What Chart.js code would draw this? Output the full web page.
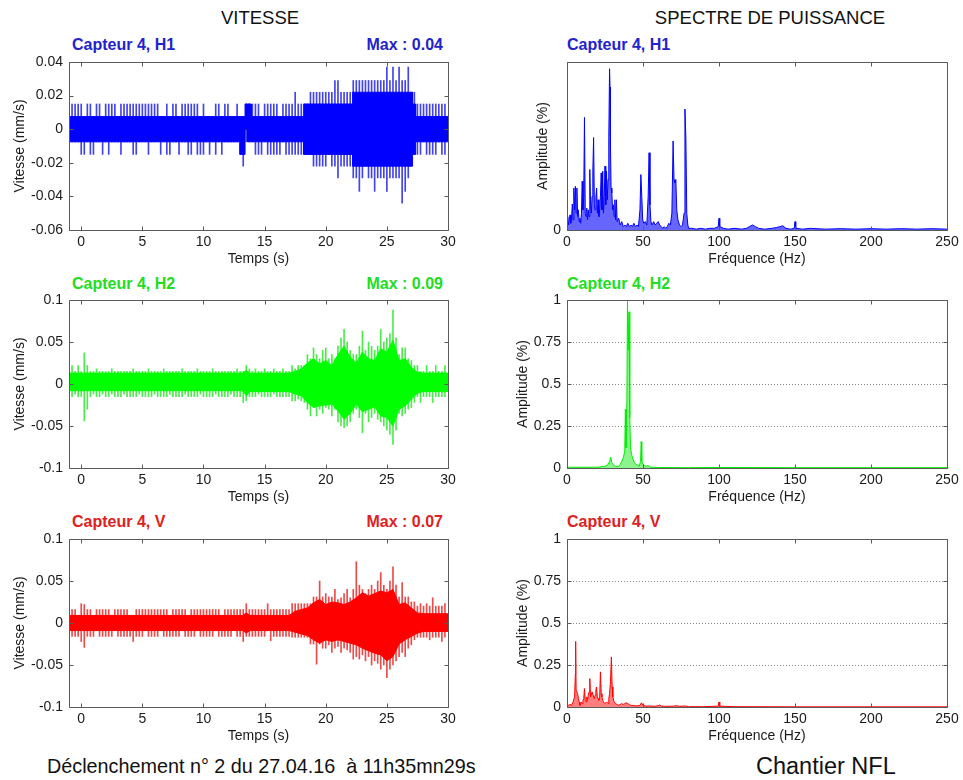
<!DOCTYPE html>
<html lang="fr">
<head>
<meta charset="utf-8">
<title>Capteur 4 - Vitesse et spectre de puissance</title>
<script src="https://cdn.jsdelivr.net/npm/chart.js@4.4.1/dist/chart.umd.min.js"></script>
<style>
body{margin:0;background:#fff;font-family:"Liberation Sans",Arial,sans-serif;}
#page{position:relative;width:963px;height:780px;overflow:hidden;background:#fff;}
#page canvas{position:absolute;}
.txt{position:absolute;white-space:nowrap;line-height:1;}
.head{font-size:18.5px;color:#111;transform:translateX(-50%);}
.sub{font-size:16px;font-weight:bold;}
.right{transform:translateX(-100%);}
.blue{color:#2323cc;}
.green{color:#22dd22;}
.red{color:#dd2222;}
</style>
</head>
<body>
<div id="page">
  <div class="txt head" style="left:260px;top:9px;">VITESSE</div>
  <div class="txt head" style="left:770px;top:9px;">SPECTRE DE PUISSANCE</div>

  <div class="txt sub blue" style="left:72px;top:37px;">Capteur 4, H1</div>
  <div class="txt sub blue right" style="left:443px;top:37px;">Max : 0.04</div>
  <div class="txt sub blue" style="left:567px;top:37px;">Capteur 4, H1</div>

  <div class="txt sub green" style="left:72px;top:276px;">Capteur 4, H2</div>
  <div class="txt sub green right" style="left:443px;top:276px;">Max : 0.09</div>
  <div class="txt sub green" style="left:567px;top:276px;">Capteur 4, H2</div>

  <div class="txt sub red" style="left:72px;top:514px;">Capteur 4, V</div>
  <div class="txt sub red right" style="left:443px;top:514px;">Max : 0.07</div>
  <div class="txt sub red" style="left:567px;top:514px;">Capteur 4, V</div>

  <canvas id="velH1" width="460" height="218" style="left:0;top:50px;"></canvas>
  <canvas id="velH2" width="460" height="218" style="left:0;top:288px;"></canvas>
  <canvas id="velV"  width="460" height="218" style="left:0;top:527px;"></canvas>
  <canvas id="specH1" width="460" height="218" style="left:500px;top:50px;"></canvas>
  <canvas id="specH2" width="460" height="218" style="left:500px;top:288px;"></canvas>
  <canvas id="specV"  width="460" height="218" style="left:500px;top:527px;"></canvas>

  <div class="txt" style="left:47px;top:757px;font-size:19.8px;color:#111;">Déclenchement n° 2 du 27.04.16&nbsp; à 11h35mn29s</div>
  <div class="txt" style="left:756px;top:755px;font-size:23.5px;color:#111;">Chantier NFL</div>
</div>

<script>
// ---- axes ----
const timeTicks = [0, 5, 10, 15, 20, 25, 30];
const freqTicks = [0, 50, 100, 150, 200, 250];
const velTicksH1 = [-0.06, -0.04, -0.02, 0, 0.02, 0.04];
const velTicksH2 = [-0.1, -0.05, 0, 0.05, 0.1];
const velTicksV = [-0.1, -0.05, 0, 0.05, 0.1];
const ampTicks = [0, 0.25, 0.5, 0.75, 1];
const ampTicksH1 = [0];

// ---- vitesse : pics relevés tous les 0.25 s (µm/s) ----
const sampleT = [
  -0.75, -0.5, -0.25,
  0, 0.25, 0.5, 0.75, 1, 1.25, 1.5, 1.75,
  2, 2.25, 2.5, 2.75, 3, 3.25, 3.5, 3.75,
  4, 4.25, 4.5, 4.75, 5, 5.25, 5.5, 5.75,
  6, 6.25, 6.5, 6.75, 7, 7.25, 7.5, 7.75,
  8, 8.25, 8.5, 8.75, 9, 9.25, 9.5, 9.75,
  10, 10.25, 10.5, 10.75, 11, 11.25, 11.5, 11.75,
  12, 12.25, 12.5, 12.75, 13, 13.25, 13.5, 13.75,
  14, 14.25, 14.5, 14.75, 15, 15.25, 15.5, 15.75,
  16, 16.25, 16.5, 16.75, 17, 17.25, 17.5, 17.75,
  18, 18.25, 18.5, 18.75, 19, 19.25, 19.5, 19.75,
  20, 20.25, 20.5, 20.75, 21, 21.25, 21.5, 21.75,
  22, 22.25, 22.5, 22.75, 23, 23.25, 23.5, 23.75,
  24, 24.25, 24.5, 24.75, 25, 25.25, 25.5, 25.75,
  26, 26.25, 26.5, 26.75, 27, 27.25, 27.5, 27.75,
  28, 28.25, 28.5, 28.75, 29, 29.25, 29.5, 29.75
];

const h1Hi = [
  15, 15, 15,
  15, 7.5, 15, 15, 7.5, 15, 15, 7.5,
  15, 15, 15, 15, 7.5, 15, 15, 15,
  15, 15, 15, 15, 15, 15, 15, 15,
  15, 15, 7.5, 7.5, 15, 7.5, 15, 15,
  7.5, 15, 15, 15, 15, 15, 15, 7.5,
  15, 7.5, 7.5, 7.5, 15, 15, 7.5, 15,
  15, 7.5, 7.5, 15, 7.5, 7.5, 15, 15,
  15, 15, 15, 7.5, 15, 15, 15, 15,
  15, 7.5, 15, 15, 15, 15, 22, 15,
  15, 15, 15, 22, 22, 22, 22, 22,
  22, 22, 22, 29, 29, 22, 22, 22,
  22, 29, 29, 29, 29, 29, 29, 29,
  29, 29, 29, 29, 37, 29, 37, 29,
  37, 29, 29, 37, 22, 22, 15, 15,
  15, 15, 15, 15, 15, 15, 15, 15
];
const h1Lo = [
  -7.5, -7.5, -7.5,
  -15, -15, -7.5, -15, -15, -7.5, -7.5, -15,
  -7.5, -15, -7.5, -7.5, -7.5, -15, -7.5, -7.5,
  -7.5, -15, -15, -7.5, -7.5, -7.5, -15, -7.5,
  -7.5, -7.5, -15, -7.5, -15, -15, -7.5, -7.5,
  -15, -7.5, -7.5, -15, -15, -7.5, -15, -15,
  -15, -7.5, -15, -7.5, -15, -7.5, -15, -7.5,
  -7.5, -7.5, -7.5, -7.5, -15, -22, -7.5, -7.5,
  -7.5, -15, -15, -15, -7.5, -15, -15, -15,
  -15, -15, -7.5, -15, -15, -15, -15, -15,
  -15, -15, -15, -15, -22, -22, -22, -22,
  -22, -15, -22, -22, -29, -22, -22, -22,
  -22, -29, -29, -37, -29, -22, -29, -29,
  -37, -29, -29, -29, -37, -29, -29, -29,
  -29, -44, -37, -29, -22, -15, -15, -15,
  -7.5, -15, -15, -15, -15, -7.5, -15, -15
];

const h2Hi = [
  22, 15, 22,
  15, 37, 22, 15, 15, 18, 15, 15,
  15, 15, 18, 15, 15, 15, 15, 15,
  15, 18, 15, 15, 15, 15, 18, 15,
  15, 15, 15, 18, 15, 15, 15, 15,
  15, 18, 15, 15, 15, 15, 18, 15,
  15, 15, 15, 18, 15, 15, 15, 15,
  15, 15, 15, 18, 15, 15, 22, 18,
  15, 18, 15, 15, 18, 15, 15, 18,
  15, 15, 18, 15, 15, 22, 18, 22,
  22, 22, 35, 30, 43, 35, 30, 40,
  43, 30, 35, 30, 45, 55, 65, 50,
  40, 35, 35, 45, 63, 40, 50, 45,
  40, 45, 65, 50, 55, 60, 88, 55,
  35, 43, 43, 30, 28, 22, 22, 15,
  15, 22, 15, 15, 22, 15, 15, 22
];
const h2Lo = [
  -15, -12, -15,
  -15, -44, -30, -15, -12, -15, -15, -12,
  -15, -15, -12, -15, -15, -15, -12, -15,
  -15, -15, -15, -12, -15, -15, -15, -15,
  -12, -15, -15, -15, -15, -12, -15, -15,
  -15, -15, -12, -15, -15, -15, -15, -12,
  -15, -15, -15, -15, -12, -15, -15, -15,
  -15, -12, -15, -15, -15, -22, -20, -15,
  -15, -15, -12, -15, -15, -15, -15, -12,
  -15, -15, -15, -15, -15, -20, -20, -18,
  -20, -22, -30, -38, -28, -38, -30, -35,
  -28, -30, -38, -30, -45, -50, -52, -50,
  -45, -35, -30, -40, -58, -35, -45, -40,
  -35, -42, -45, -50, -55, -60, -72, -55,
  -35, -38, -35, -30, -28, -22, -15, -22,
  -15, -15, -15, -22, -15, -15, -15, -15
];

const vHi = [
  16, 16, 9,
  23, 22, 16, 16, 9, 16, 16, 16,
  16, 16, 9, 16, 16, 16, 16, 16,
  9, 9, 16, 16, 16, 16, 16, 16,
  16, 16, 16, 16, 16, 9, 16, 16,
  16, 16, 16, 9, 16, 16, 16, 16,
  16, 16, 16, 16, 16, 16, 9, 16,
  16, 16, 16, 16, 16, 16, 23, 16,
  16, 16, 16, 16, 16, 23, 16, 16,
  16, 16, 16, 16, 16, 23, 23, 23,
  23, 23, 23, 23, 31, 31, 50, 31,
  35, 31, 31, 40, 28, 30, 35, 40,
  30, 40, 73, 45, 40, 35, 40, 45,
  40, 50, 60, 45, 40, 50, 67, 45,
  31, 48, 31, 31, 25, 25, 20, 23,
  20, 23, 20, 30, 20, 20, 20, 23
];
const vLo = [
  -16, -16, -16,
  -22, -29, -16, -16, -16, -9, -16, -16,
  -16, -16, -16, -9, -16, -16, -16, -16,
  -16, -22, -16, -16, -16, -9, -16, -16,
  -16, -16, -9, -16, -16, -16, -16, -16,
  -16, -9, -16, -16, -16, -16, -9, -16,
  -16, -16, -16, -16, -9, -16, -16, -16,
  -16, -16, -9, -16, -16, -22, -16, -16,
  -16, -16, -16, -16, -16, -9, -21, -16,
  -16, -16, -16, -16, -16, -17, -17, -17,
  -17, -17, -17, -25, -25, -49, -25, -30,
  -30, -26, -35, -30, -28, -35, -30, -32,
  -35, -43, -40, -43, -38, -45, -40, -50,
  -45, -48, -55, -50, -65, -55, -50, -45,
  -40, -35, -40, -30, -26, -20, -17, -17,
  -17, -17, -20, -17, -17, -17, -22, -17
];

// ---- vitesse : bande pleine (µm/s) ----
const h1CoreT  = [-1, 13.0, 13.0, 13.4, 13.4, 13.6, 13.6, 13.9, 13.9, 18.2, 18.2, 22.2, 22.2, 27.1, 27.1, 27.35, 27.35, 30];
const h1CoreHi = [7.5, 7.5, 7.5, 7.5, 15, 15, 15, 15, 7.5, 7.5, 15, 15, 22, 22, 15, 15, 7.5, 7.5];
const h1CoreLo = [-7.5, -7.5, -15, -15, 0, 0, -7.5, -7.5, -7.5, -7.5, -15, -15, -22, -22, -15, -15, -7.5, -7.5];

const h2CoreT  = [-1, 13.2, 13.5, 13.8, 17, 17.5, 18, 18.5, 19, 19.5, 20, 20.5, 21, 21.5, 22, 22.5,
  23, 23.5, 24, 24.5, 25, 25.5, 26, 26.5, 27, 27.5, 28, 30];
const h2CoreHi = [13, 13, 16, 13, 13, 15, 18, 25, 30, 24, 28, 22, 35, 45, 32, 25,
  38, 30, 28, 42, 38, 52, 28, 30, 20, 14, 13, 13];
const h2CoreLo = [-8, -8, -14, -9, -9, -12, -14, -22, -28, -26, -25, -24, -32, -42, -35, -24,
  -33, -30, -27, -38, -40, -50, -30, -26, -18, -11, -9, -9];

const vCoreT  = [-1, 13.2, 13.5, 13.8, 17, 17.5, 18, 18.5, 19, 19.5, 20, 20.5, 21, 21.5, 22, 22.5,
  23, 23.5, 24, 24.5, 25, 25.5, 26, 26.5, 27, 27.5, 28, 30];
const vCoreHi = [9, 9, 12, 9, 9, 14, 16, 18, 24, 28, 22, 25, 24, 22, 25, 30,
  36, 32, 35, 38, 36, 40, 22, 24, 18, 12, 11, 11];
const vCoreLo = [-9, -9, -12, -9, -9, -11, -13, -15, -20, -24, -20, -22, -20, -22, -24, -26,
  -30, -33, -36, -38, -45, -40, -25, -20, -16, -12, -10, -10];

// ---- spectres de puissance ----
const specFreqH1 = [0, 0.5, 1, 1.5, 2, 2.5, 3, 3.5, 4, 4.5, 5, 5.5, 6, 6.5, 7, 7.5, 8, 8.5, 9, 9.5,
  10, 10.5, 11, 11.5, 12, 12.5, 13, 13.5, 14, 14.5, 15, 15.5, 16, 16.5, 17, 17.5, 18, 18.5, 19, 19.5,
  20, 20.5, 21, 21.5, 22, 22.5, 23, 23.5, 24, 24.5, 25, 25.5, 26, 26.5, 27, 27.5, 28, 28.3, 28.6, 29,
  29.5, 30, 30.5, 31, 31.5, 32, 32.5, 33, 34, 35, 36, 37, 38, 39, 40, 41, 42, 43, 44, 45, 46, 47,
  48, 48.6, 49.2, 49.8, 50.5, 51.5, 52.5, 53.4, 54, 54.6, 55.2, 56, 57, 58, 59, 60, 61, 62, 63, 64,
  65, 66, 67, 68, 69, 69.8, 70.4, 71, 71.6, 72.2, 73, 74, 75, 76, 77, 77.6, 78.2, 78.8, 79.5, 80,
  82, 85, 88, 91, 94, 97, 99.5, 100, 100.5, 103, 106, 110, 115, 118, 120, 122, 124, 126, 130, 135,
  138, 140, 142, 144, 147, 149.5, 150, 150.5, 155, 160, 170, 180, 190, 200, 210, 220, 230, 240, 250];
const specAmpH1 = [0.05, 0.08, 0.03, 0.06, 0.09, 0.04, 0.07, 0.155, 0.06, 0.25, 0.12, 0.26, 0.1, 0.25, 0.08, 0.12, 0.05, 0.07, 0.04, 0.1,
  0.29, 0.12, 0.2, 0.67, 0.1, 0.08, 0.13, 0.06, 0.12, 0.08, 0.36, 0.15, 0.1, 0.2, 0.35, 0.55, 0.15, 0.12, 0.2, 0.25,
  0.1, 0.18, 0.08, 0.12, 0.2, 0.34, 0.12, 0.35, 0.1, 0.2, 0.38, 0.15, 0.35, 0.18, 0.3, 0.55, 0.96, 0.85, 0.5, 0.25,
  0.22, 0.12, 0.15, 0.08, 0.18, 0.06, 0.18, 0.05, 0.07, 0.03, 0.05, 0.02, 0.03, 0.02, 0.04, 0.02, 0.03, 0.02, 0.04, 0.02, 0.03, 0.02,
  0.12, 0.33, 0.2, 0.06, 0.04, 0.05, 0.03, 0.2, 0.46, 0.15, 0.05, 0.03, 0.05, 0.03, 0.04, 0.05, 0.03, 0.02, 0.01, 0.02,
  0.01, 0.02, 0.04, 0.03, 0.1, 0.53, 0.3, 0.28, 0.3, 0.12, 0.06, 0.03, 0.02, 0.03, 0.1, 0.72, 0.55, 0.1, 0.03, 0.01,
  0.01, 0.005, 0.01, 0.005, 0.01, 0.01, 0.02, 0.07, 0.02, 0.01, 0.005, 0.01, 0.005, 0.01, 0.02, 0.03, 0.02, 0.01, 0.005, 0.01,
  0.015, 0.02, 0.025, 0.01, 0.005, 0.01, 0.05, 0.01, 0.005, 0.01, 0.005, 0.008, 0.005, 0.008, 0.005, 0.008, 0.005, 0.008, 0.005];

const specFreqH2 = [0, 10, 20, 25, 27, 28, 28.8, 29.5, 30.5, 32, 34, 35, 36, 37, 38, 38.4, 38.8, 39.4, 39.8, 40.3,
  40.8, 41.3, 41.8, 42.5, 43.5, 44.5, 45.5, 46.5, 47.5, 48.4, 48.8, 49.2, 50, 51, 52, 53, 54, 55, 60, 80,
  100, 150, 200, 250];
const specAmpH2 = [0.005, 0.004, 0.005, 0.01, 0.02, 0.04, 0.065, 0.03, 0.02, 0.01, 0.01, 0.02, 0.04, 0.06, 0.1, 0.35, 0.12, 0.4, 1.0, 0.7,
  0.93, 0.3, 0.12, 0.08, 0.05, 0.03, 0.02, 0.02, 0.01, 0.04, 0.157, 0.04, 0.02, 0.015, 0.01, 0.015, 0.01, 0.005, 0.003, 0.002,
  0.003, 0.002, 0.002, 0.002];

const specFreqV = [0, 1, 2, 3, 4, 5, 5.5, 5.7, 6, 6.5, 7, 7.5, 8, 8.5, 9, 9.5, 10, 10.5, 11, 11.5,
  12, 12.5, 13, 13.5, 14, 14.5, 15, 15.5, 16, 16.5, 17, 17.5, 18, 18.5, 19, 19.4, 20, 20.5, 21, 21.5,
  22, 22.5, 23, 23.5, 24, 25, 26, 27, 27.5, 28, 28.6, 29.2, 29.7, 30.2, 31, 32, 33, 34, 35, 36,
  37, 38, 39, 40, 41, 42, 44, 46, 48, 49, 50, 52, 55, 58, 60, 61, 62, 65, 70, 72,
  74, 78, 80, 90, 99.5, 100, 100.5, 110, 150, 200, 250];
const specAmpV = [0.005, 0.01, 0.015, 0.01, 0.03, 0.06, 0.2, 0.39, 0.1, 0.1, 0.08, 0.05, 0.03, 0.01, 0.02, 0.03, 0.02, 0.04, 0.05, 0.11,
  0.04, 0.03, 0.06, 0.04, 0.07, 0.09, 0.169, 0.06, 0.07, 0.09, 0.09, 0.06, 0.05, 0.07, 0.1, 0.119, 0.06, 0.05, 0.04, 0.06,
  0.209, 0.08, 0.06, 0.04, 0.03, 0.02, 0.03, 0.02, 0.05, 0.08, 0.15, 0.298, 0.12, 0.06, 0.03, 0.02, 0.015, 0.01, 0.015, 0.02,
  0.015, 0.02, 0.025, 0.02, 0.015, 0.01, 0.008, 0.006, 0.01, 0.025, 0.01, 0.005, 0.006, 0.004, 0.008, 0.012, 0.005, 0.004, 0.005, 0.008,
  0.004, 0.006, 0.002, 0.002, 0.005, 0.03, 0.005, 0.002, 0.001, 0.001, 0.001];

const UM = 0.001; // µm/s -> mm/s

Chart.defaults.font.family = '"Liberation Sans", Arial, sans-serif';
Chart.defaults.font.size = 14;
Chart.defaults.color = '#1a1a1a';

// cadre et graduations vers l'intérieur, façon matlab
const matlabBox = {
  id: 'matlabBox',
  beforeDatasetsDraw: function(chart, args, opts) {
    if (!opts.grid) return;
    var a = chart.chartArea, y = chart.scales.y, ctx = chart.ctx;
    ctx.save();
    ctx.strokeStyle = '#8a8a8a';
    ctx.lineWidth = 1;
    ctx.setLineDash([1, 2]);
    y.ticks.forEach(function(t) {
      if (t.value <= y.min || t.value >= y.max) return;
      var py = Math.round(y.getPixelForValue(t.value)) + 0.5;
      ctx.beginPath();
      ctx.moveTo(a.left, py);
      ctx.lineTo(a.right, py);
      ctx.stroke();
    });
    ctx.restore();
  },
  afterDatasetsDraw: function(chart) {
    var a = chart.chartArea, x = chart.scales.x, y = chart.scales.y, ctx = chart.ctx, tl = 4;
    var l = Math.round(a.left) + 0.5, r = Math.round(a.right) + 0.5;
    var t = Math.round(a.top) + 0.5, b = Math.round(a.bottom) + 0.5;
    ctx.save();
    ctx.strokeStyle = '#5a5a5a';
    ctx.lineWidth = 1;
    ctx.beginPath();
    ctx.rect(l, t, r - l, b - t);
    x.ticks.forEach(function(tk) {
      var px = Math.round(x.getPixelForValue(tk.value)) + 0.5;
      ctx.moveTo(px, b); ctx.lineTo(px, b - tl);
      ctx.moveTo(px, t); ctx.lineTo(px, t + tl);
    });
    y.ticks.forEach(function(tk) {
      var py = Math.round(y.getPixelForValue(tk.value)) + 0.5;
      ctx.moveTo(l, py); ctx.lineTo(l + tl, py);
      ctx.moveTo(r, py); ctx.lineTo(r - tl, py);
    });
    ctx.stroke();
    ctx.restore();
  }
};
Chart.register(matlabBox);

function pts(xs, ys, k) {
  return xs.map(function(x, i) { return {x: x, y: ys[i] * k}; });
}
function bars(xs, lo, hi, k) {
  return xs.map(function(x, i) { return {x: x, y: [lo[i] * k, hi[i] * k]}; });
}
function noOverflow(s) {
  s.paddingTop = 0; s.paddingBottom = 0; s.paddingLeft = 0; s.paddingRight = 0;
}

function scaleX(min, max, ticks, title) {
  return {
    type: 'linear', min: min, max: max, offset: false,
    grid: {display: false, drawTicks: false}, border: {display: false},
    afterBuildTicks: function(s) { s.ticks = ticks.map(function(v) { return {value: v}; }); },
    afterFit: function(s) { s.height = 38; noOverflow(s); },
    ticks: {padding: 4, maxRotation: 0, autoSkip: false, callback: function(v) { return String(v); }},
    title: {display: true, text: title, padding: 0}
  };
}
function scaleY(min, max, ticks, title, width) {
  return {
    type: 'linear', min: min, max: max,
    grid: {display: false, drawTicks: false}, border: {display: false},
    afterBuildTicks: function(s) { s.ticks = ticks.map(function(v) { return {value: v}; }); },
    afterFit: function(s) { s.width = width; noOverflow(s); },
    ticks: {padding: 6, autoSkip: false, callback: function(v) { return String(v); }},
    title: {display: true, text: title, padding: 0}
  };
}
function baseOptions(xs, ys, padLeft, dotted) {
  return {
    responsive: false, animation: false, events: [], devicePixelRatio: 1,
    layout: {padding: {left: padLeft, right: padLeft === 12 ? 12 : 13, top: 12, bottom: 0}},
    plugins: {legend: {display: false}, tooltip: {enabled: false}, matlabBox: {grid: dotted}},
    scales: {x: xs, y: ys}
  };
}

function velocityChart(id, p) {
  return new Chart(document.getElementById(id), {
    type: 'bar',
    data: {datasets: [
      {type: 'line', data: pts(p.coreT, p.coreHi, UM), borderColor: p.color, backgroundColor: p.color,
       borderWidth: 1, pointRadius: 0, fill: '+1'},
      {type: 'line', data: pts(p.coreT, p.coreLo, UM), borderColor: p.color,
       borderWidth: 1, pointRadius: 0, fill: false},
      {type: 'bar', data: bars(sampleT, p.lo, p.hi, UM), backgroundColor: p.spike,
       barThickness: 1, grouped: false, borderWidth: 0}
    ]},
    options: baseOptions(scaleX(-1, 30, timeTicks, 'Temps (s)'),
                         scaleY(p.ticks[0], p.ticks[p.ticks.length - 1], p.ticks, 'Vitesse (mm/s)', 57), 12, false)
  });
}

function spectrumChart(id, p) {
  return new Chart(document.getElementById(id), {
    type: 'line',
    data: {datasets: [
      {data: pts(p.freq, p.amp, 1), borderColor: p.color, backgroundColor: p.fillColor,
       borderWidth: 1, pointRadius: 0, fill: 'origin'}
    ]},
    options: baseOptions(scaleX(0, 250, freqTicks, 'Fréquence (Hz)'),
                         scaleY(0, 1, p.ticks, 'Amplitude (%)', p.yWidth), p.padLeft, p.dotted)
  });
}

velocityChart('velH1', {coreT: h1CoreT, coreHi: h1CoreHi, coreLo: h1CoreLo, hi: h1Hi, lo: h1Lo,
  color: '#0000ff', spike: 'rgba(20,20,230,0.8)', ticks: velTicksH1});
velocityChart('velH2', {coreT: h2CoreT, coreHi: h2CoreHi, coreLo: h2CoreLo, hi: h2Hi, lo: h2Lo,
  color: '#00ff00', spike: 'rgba(30,230,30,0.8)', ticks: velTicksH2});
velocityChart('velV', {coreT: vCoreT, coreHi: vCoreHi, coreLo: vCoreLo, hi: vHi, lo: vLo,
  color: '#ff0000', spike: 'rgba(230,30,30,0.8)', ticks: velTicksV});

spectrumChart('specH1', {freq: specFreqH1, amp: specAmpH1, color: '#0000ff', fillColor: 'rgba(0,0,255,0.6)',
  ticks: ampTicksH1, yWidth: 32, padLeft: 35, dotted: false});
spectrumChart('specH2', {freq: specFreqH2, amp: specAmpH2, color: '#00ee00', fillColor: 'rgba(0,230,0,0.45)',
  ticks: ampTicks, yWidth: 52, padLeft: 15, dotted: true});
spectrumChart('specV', {freq: specFreqV, amp: specAmpV, color: '#ff0000', fillColor: 'rgba(255,0,0,0.5)',
  ticks: ampTicks, yWidth: 52, padLeft: 15, dotted: true});
</script>
</body>
</html>
